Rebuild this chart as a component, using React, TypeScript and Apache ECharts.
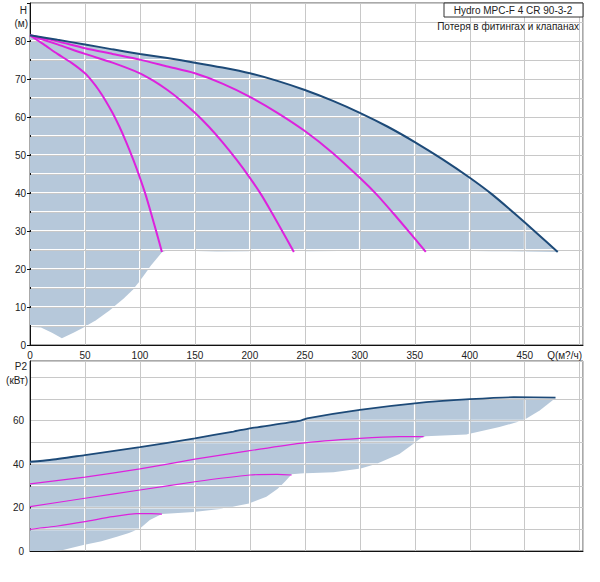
import React, { useEffect, useRef } from "react";
import * as echarts from "echarts";

// ---- Top chart: head H (m) vs flow Q (m3/h) ----
const qMain = [0, 25, 50, 75, 100, 125, 150, 175, 200, 225, 250, 275, 300, 325, 350, 375, 400, 420, 440, 460, 480];
const hMain = [81.5, 80.3, 79.1, 77.8, 76.6, 75.5, 74.3, 73, 71.5, 69.5, 67.1, 64.3, 61.1, 57.5, 53.4, 48.9, 44, 39.7, 34.8, 29.7, 24.5];

const q3 = [0, 25, 50, 75, 100, 125, 150, 175, 200, 225, 250, 275, 300, 315, 330, 345, 360];
const h3 = [81.5, 79.9, 78.1, 76.6, 75.1, 73.3, 71.5, 68.8, 65.3, 61.1, 56.3, 50.6, 44, 39.7, 34.8, 29.7, 24.5];

const q2 = [0, 25, 50, 75, 100, 112.5, 125, 137.5, 150, 162.5, 175, 187.5, 200, 210, 220, 230, 240];
const h2 = [81.5, 79.1, 76.6, 74.3, 71.5, 69.5, 67.1, 64.3, 61.1, 57.5, 53.4, 48.9, 44, 39.7, 34.8, 29.7, 24.5];

const q1 = [0, 12.5, 25, 37.5, 50, 56.25, 62.5, 68.75, 75, 81.25, 87.5, 93.75, 100, 105, 110, 115, 120];
const h1 = [81.5, 79.1, 76.6, 74.3, 71.5, 69.5, 67.1, 64.3, 61.1, 57.5, 53.4, 48.9, 44, 39.7, 34.8, 29.7, 24.5];

const qLow = [0, 10, 20, 29, 40, 50, 60, 72, 85, 94, 100, 110, 120, 125, 132, 140, 170, 200, 230, 240, 245, 250, 300, 355, 362, 370, 420, 480];
const hLow = [4.8, 4.6, 3.2, 1.8, 3.3, 4.8, 6.5, 9, 12.2, 14.7, 16.9, 20.9, 24.4, 25, 25.2, 24.8, 24.6, 24.7, 24.8, 24.9, 25.3, 24.7, 24.8, 24.9, 25.2, 24.8, 24.7, 24.5];

// ---- Bottom chart: power P2 (kW) vs flow Q ----
const qP4 = [0, 18, 50, 100, 150, 185, 200, 245, 252, 300, 350, 400, 440, 478];
const p4 = [41.1, 41.9, 44.2, 47.8, 51.9, 55, 56.5, 59.9, 61.1, 65, 68, 69.9, 70.8, 70.6];

const qP3 = [0, 50, 100, 150, 200, 245, 300, 336, 358];
const p3 = [30.9, 34, 37.8, 42.3, 46.2, 49.6, 51.9, 52.7, 52.7];

const qP2 = [0, 50, 100, 150, 200, 225, 238];
const p2 = [20.4, 24.3, 28.1, 31.9, 35, 35.3, 35];

const qP1 = [0, 25, 50, 75, 97, 110, 120];
const p1 = [10, 11.5, 13.5, 15.8, 17.2, 17.2, 17];

const qPLow = [0, 20, 30, 48.5, 65, 79, 90, 100, 109, 120, 150, 175, 200, 215, 225, 232, 238, 246, 276, 300, 315, 336, 348.5, 356, 360, 397, 427, 448.5, 463.6, 478];
const pLow = [0, 0, 0.5, 2.8, 4.5, 6.6, 8.3, 10.4, 14.3, 17, 18, 19.5, 22, 25, 28.5, 32, 35.3, 35.7, 36.3, 37.9, 40.1, 44.7, 49.3, 52.2, 52.8, 53.7, 57.1, 60.1, 64.7, 70.5];

const xLabels = [0, 50, 100, 150, 200, 250, 300, 350, 400, 450];
const hLabels = [0, 10, 20, 30, 40, 50, 60, 70, 80];
const pLabels = [0, 20, 40, 60];
const xGrid = [50, 100, 150, 200, 250, 300, 350, 400, 450, 500];
const hGrid = [5, 10, 15, 20, 25, 30, 35, 40, 45, 50, 55, 60, 65, 70, 75, 80, 85];
const pGrid = [10, 20, 30, 40, 50, 60, 70, 80];

const TITLE = "Hydro MPC-F 4 CR 90-3-2";
const SUBTITLE = "Потеря в фитингах и клапанах";
const X_NAME = "Q(м?/ч)";

const FILL = "#b6c8da";
const BLUE = "#1d4a78";
const MAG = "#dd22dd";
const GRIDC = "#c8c8c8";
const FONT = "Liberation Sans";

const pair = (xs: number[], ys: number[]) => xs.map((x, i) => [x, ys[i]]);

// Sutherland–Hodgman clipping of a pixel polygon against an axis-aligned rectangle
const clipPoly = (poly: number[][], x1: number, x2: number, y1: number, y2: number) => {
  const edge = (pts: number[][], inside: (p: number[]) => boolean, cut: (a: number[], b: number[]) => number[]) => {
    const out: number[][] = [];
    for (let i = 0; i < pts.length; i++) {
      const cur = pts[i];
      const prev = pts[(i + pts.length - 1) % pts.length];
      const ci = inside(cur);
      const pi = inside(prev);
      if (ci) {
        if (!pi) out.push(cut(prev, cur));
        out.push(cur);
      } else if (pi) {
        out.push(cut(prev, cur));
      }
    }
    return out;
  };
  const atX = (k: number) => (a: number[], b: number[]) => {
    const t = (k - a[0]) / (b[0] - a[0]);
    return [k, a[1] + t * (b[1] - a[1])];
  };
  const atY = (k: number) => (a: number[], b: number[]) => {
    const t = (k - a[1]) / (b[1] - a[1]);
    return [a[0] + t * (b[0] - a[0]), k];
  };
  let r = poly;
  r = edge(r, (p) => p[0] >= x1, atX(x1));
  if (r.length < 3) return r;
  r = edge(r, (p) => p[0] <= x2, atX(x2));
  if (r.length < 3) return r;
  r = edge(r, (p) => p[1] >= y1, atY(y1));
  if (r.length < 3) return r;
  r = edge(r, (p) => p[1] <= y2, atY(y2));
  return r;
};

export default function App() {
  const ref = useRef<HTMLDivElement>(null);
  useEffect(() => {
    const chart = echarts.init(ref.current!, null, { renderer: "svg" });
    const split = { show: true, lineStyle: { color: GRIDC, width: 1 } };
    const xAxisBase = (gi: number, labels: boolean) => ({
      type: "value",
      gridIndex: gi,
      min: 0,
      max: 503,
      interval: 50,
      axisLine: { show: true, onZero: false, lineStyle: { color: "#111", width: 1 } },
      axisTick: { show: false },
      splitLine: split,
      axisLabel: {
        show: labels,
        color: "#222",
        fontFamily: FONT,
        fontSize: 10,
        margin: 5,
        formatter: (v: number) => (xLabels.includes(v) ? String(v) : ""),
      },
    });
    const lineS = (data: number[][], xi: number, color: string, width: number, smooth: number) => ({
      type: "line",
      xAxisIndex: xi,
      yAxisIndex: xi,
      data,
      smooth,
      symbol: "none",
      silent: true,
      z: 4,
      lineStyle: { color, width },
    });
    // operating band between upper and lower curve, split into grid cells so the grid shows through
    const bandS = (
      xi: number,
      upQ: number[],
      upV: number[],
      loQ: number[],
      loV: number[],
      vLines: number[],
      hLines: number[]
    ) => ({
      type: "custom",
      coordinateSystem: "cartesian2d",
      xAxisIndex: xi,
      yAxisIndex: xi,
      data: [[0, 0]],
      silent: true,
      z: 1,
      renderItem: (params: any, api: any) => {
        const up = upQ.map((q, i) => api.coord([q, upV[i]]));
        const lo = loQ.map((q, i) => api.coord([q, loV[i]])).reverse();
        const pts = up.concat(lo);
        const cs = params.coordSys;
        const g = 0.9;
        const xs = [cs.x - 2, ...vLines.map((q) => api.coord([q, 0])[0]), cs.x + cs.width + 2];
        const ys = [cs.y - 2, ...hLines.map((v) => api.coord([0, v])[1]).sort((a, b) => a - b), cs.y + cs.height + 2];
        const children: any[] = [];
        for (let i = 0; i < xs.length - 1; i++) {
          const xa = xs[i] + (i === 0 ? 0 : g);
          const xb = xs[i + 1] - (i + 1 === xs.length - 1 ? 0 : g);
          for (let j = 0; j < ys.length - 1; j++) {
            const ya = ys[j] + (j === 0 ? 0 : g);
            const yb = ys[j + 1] - (j + 1 === ys.length - 1 ? 0 : g);
            const cell = clipPoly(pts, xa, xb, ya, yb);
            if (cell.length >= 3) {
              children.push({ type: "polygon", shape: { points: cell }, style: { fill: FILL } });
            }
          }
        }
        return { type: "group", children };
      },
    });
    const txt = (x: number, y: number, text: string, align: string, size = 10) => ({
      type: "text",
      x,
      y,
      z: 10,
      style: { text, fill: "#222", font: `${size}px "${FONT}"`, textAlign: align, textVerticalAlign: "middle" },
    });

    chart.setOption({
      animation: false,
      backgroundColor: "#fff",
      grid: [
        { left: 30, top: 3, width: 553, height: 342, show: true, borderColor: "#555", borderWidth: 1, backgroundColor: "transparent" },
        { left: 30, top: 361, width: 553, height: 190, show: true, borderColor: "#555", borderWidth: 1, backgroundColor: "transparent" },
      ],
      xAxis: [xAxisBase(0, true), xAxisBase(1, false)],
      yAxis: [
        {
          type: "value",
          gridIndex: 0,
          min: 0,
          max: 90,
          interval: 10,
          axisLine: { show: true, lineStyle: { color: "#111", width: 1 } },
          axisTick: { show: true, length: 3, lineStyle: { color: "#111" } },
          splitLine: split,
          minorTick: { show: false, splitNumber: 2 },
          minorSplitLine: split,
          axisLabel: {
            color: "#222",
            fontFamily: FONT,
            fontSize: 10,
            margin: 4,
            formatter: (v: number) => (hLabels.includes(v) ? String(v) : ""),
          },
        },
        {
          type: "value",
          gridIndex: 1,
          min: 0,
          max: 87.5,
          interval: 10,
          axisLine: { show: true, lineStyle: { color: "#111", width: 1 } },
          axisTick: { show: false },
          splitLine: split,
          axisLabel: {
            color: "#222",
            fontFamily: FONT,
            fontSize: 10,
            margin: 6,
            formatter: (v: number) => (pLabels.includes(v) ? String(v) : ""),
          },
        },
      ],
      series: [
        bandS(0, qMain, hMain, qLow, hLow, xGrid, hGrid),
        lineS(pair(q1, h1), 0, MAG, 2, 0.25),
        lineS(pair(q2, h2), 0, MAG, 2, 0.25),
        lineS(pair(q3, h3), 0, MAG, 2, 0.25),
        lineS(pair(qMain, hMain), 0, BLUE, 2, 0.25),
        bandS(1, qP4, p4, qPLow, pLow, xGrid, pGrid),
        lineS(pair(qP1, p1), 1, MAG, 1.2, 0.2),
        lineS(pair(qP2, p2), 1, MAG, 1.2, 0.2),
        lineS(pair(qP3, p3), 1, MAG, 1.2, 0.2),
        lineS(pair(qP4, p4), 1, BLUE, 1.8, 0.2),
      ],
      graphic: [
        txt(27, 10, "H", "right"),
        txt(28, 23, "(м)", "right"),
        txt(27, 366, "P2", "right"),
        txt(28, 380, "(кВт)", "right"),
        txt(582, 355, X_NAME, "right"),
        {
          type: "rect",
          z: 9,
          shape: { x: 444, y: 3, width: 139, height: 14 },
          style: { fill: "#fff", stroke: "#333", lineWidth: 1 },
        },
        txt(513, 10, TITLE, "center"),
        txt(579, 26, SUBTITLE, "right"),
      ],
    });
    return () => chart.dispose();
  }, []);
  return <div ref={ref} style={{ position: "absolute", left: 0, top: 0, width: 600, height: 582 }} />;
}
